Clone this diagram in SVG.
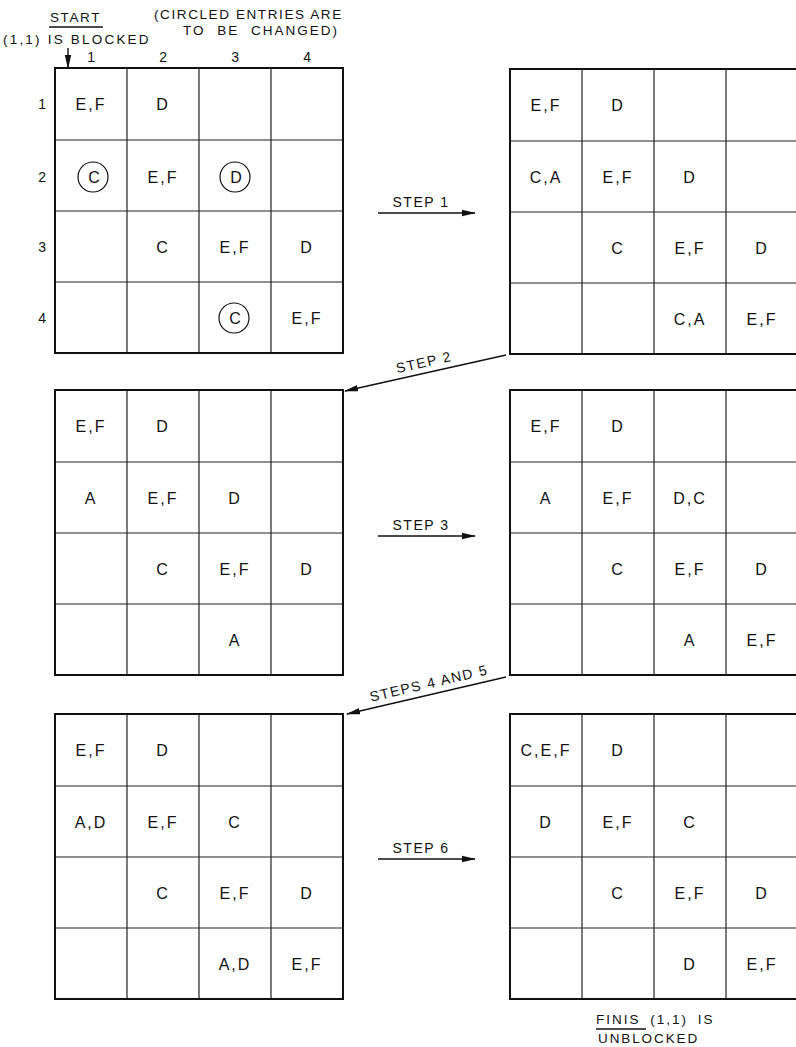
<svg xmlns="http://www.w3.org/2000/svg" width="796" height="1047" viewBox="0 0 796 1047">
<style>
text{font-family:"Liberation Sans",Arial,sans-serif;fill:#111;}
.c{font-size:16px;letter-spacing:2px;text-anchor:middle;}
.lbl{font-size:14px;letter-spacing:1.5px;text-anchor:middle;}
.hd{font-size:13.5px;letter-spacing:1.6px;}
.outer{fill:none;stroke:#111;stroke-width:2;}
.inner{stroke:#222;stroke-width:1.2;}
.ring{fill:none;stroke:#111;stroke-width:1.2;}
.arr{stroke:#111;stroke-width:1.4;fill:none;}
.ul{stroke:#111;stroke-width:1.3;}
</style>
<defs>
<marker id="ah" viewBox="0 0 14 8" refX="13" refY="4" markerWidth="14" markerHeight="8" markerUnits="userSpaceOnUse" orient="auto">
<path d="M0,0.8 L14,4 L0,7.2 Z" fill="#111"/>
</marker>
<g id="g4">
<line class="inner" x1="72" y1="0" x2="72" y2="285"/>
<line class="inner" x1="144" y1="0" x2="144" y2="285"/>
<line class="inner" x1="216" y1="0" x2="216" y2="285"/>
<line class="inner" x1="0" y1="72" x2="288" y2="72"/>
<line class="inner" x1="0" y1="143" x2="288" y2="143"/>
<line class="inner" x1="0" y1="214" x2="288" y2="214"/>
<rect class="outer" x="0" y="0" width="288" height="285"/>
</g>
</defs>

<g id="header">
<text class="hd" x="50" y="22">START</text>
<line class="ul" x1="49" y1="27" x2="103" y2="27"/>
<text class="hd" x="3" y="44" style="letter-spacing:2.2px">(1,1) IS BLOCKED</text>
<text class="hd" x="154" y="19">(CIRCLED ENTRIES ARE</text>
<text class="hd" x="183" y="35" style="word-spacing:6px;letter-spacing:2px">TO BE CHANGED)</text>
<text class="lbl" x="92" y="62">1</text>
<text class="lbl" x="164" y="62">2</text>
<text class="lbl" x="236" y="62">3</text>
<text class="lbl" x="308" y="62">4</text>
<text class="lbl" x="43" y="109">1</text>
<text class="lbl" x="43" y="182">2</text>
<text class="lbl" x="43" y="252">3</text>
<text class="lbl" x="43" y="323">4</text>
</g>

<g id="grid-start" transform="translate(55,68)">
<use href="#g4"/>
<text class="c" x="36" y="42">E,F</text>
<text class="c" x="108" y="42">D</text>
<circle class="ring" cx="38" cy="109" r="15"/>
<text class="c" x="39" y="115" style="letter-spacing:0">C</text>
<text class="c" x="108" y="115">E,F</text>
<circle class="ring" cx="180" cy="109" r="15"/>
<text class="c" x="181" y="115" style="letter-spacing:0">D</text>
<text class="c" x="108" y="185">C</text>
<text class="c" x="180" y="185">E,F</text>
<text class="c" x="252" y="185">D</text>
<circle class="ring" cx="179" cy="250" r="15"/>
<text class="c" x="180" y="256" style="letter-spacing:0">C</text>
<text class="c" x="252" y="256">E,F</text>
</g>

<g id="grid-step1" transform="translate(510,69)">
<use href="#g4"/>
<text class="c" x="36" y="42">E,F</text>
<text class="c" x="108" y="42">D</text>
<text class="c" x="36" y="114">C,A</text>
<text class="c" x="108" y="114">E,F</text>
<text class="c" x="180" y="114">D</text>
<text class="c" x="108" y="185">C</text>
<text class="c" x="180" y="185">E,F</text>
<text class="c" x="252" y="185">D</text>
<text class="c" x="180" y="256">C,A</text>
<text class="c" x="252" y="256">E,F</text>
</g>

<g id="grid-step2" transform="translate(55,390)">
<use href="#g4"/>
<text class="c" x="36" y="42">E,F</text>
<text class="c" x="108" y="42">D</text>
<text class="c" x="36" y="114">A</text>
<text class="c" x="108" y="114">E,F</text>
<text class="c" x="180" y="114">D</text>
<text class="c" x="108" y="185">C</text>
<text class="c" x="180" y="185">E,F</text>
<text class="c" x="252" y="185">D</text>
<text class="c" x="180" y="256">A</text>
</g>

<g id="grid-step3" transform="translate(510,390)">
<use href="#g4"/>
<text class="c" x="36" y="42">E,F</text>
<text class="c" x="108" y="42">D</text>
<text class="c" x="36" y="114">A</text>
<text class="c" x="108" y="114">E,F</text>
<text class="c" x="180" y="114">D,C</text>
<text class="c" x="108" y="185">C</text>
<text class="c" x="180" y="185">E,F</text>
<text class="c" x="252" y="185">D</text>
<text class="c" x="180" y="256">A</text>
<text class="c" x="252" y="256">E,F</text>
</g>

<g id="grid-step45" transform="translate(55,714)">
<use href="#g4"/>
<text class="c" x="36" y="42">E,F</text>
<text class="c" x="108" y="42">D</text>
<text class="c" x="36" y="114">A,D</text>
<text class="c" x="108" y="114">E,F</text>
<text class="c" x="180" y="114">C</text>
<text class="c" x="108" y="185">C</text>
<text class="c" x="180" y="185">E,F</text>
<text class="c" x="252" y="185">D</text>
<text class="c" x="180" y="256">A,D</text>
<text class="c" x="252" y="256">E,F</text>
</g>

<g id="grid-finis" transform="translate(510,714)">
<use href="#g4"/>
<text class="c" x="36" y="42">C,E,F</text>
<text class="c" x="108" y="42">D</text>
<text class="c" x="36" y="114">D</text>
<text class="c" x="108" y="114">E,F</text>
<text class="c" x="180" y="114">C</text>
<text class="c" x="108" y="185">C</text>
<text class="c" x="180" y="185">E,F</text>
<text class="c" x="252" y="185">D</text>
<text class="c" x="180" y="256">D</text>
<text class="c" x="252" y="256">E,F</text>
</g>

<g id="caption">
<text class="hd" x="596" y="1024" style="letter-spacing:2px;word-spacing:4px">FINIS (1,1) IS</text>
<line class="ul" x1="596" y1="1029" x2="646" y2="1029"/>
<text class="hd" x="598" y="1043" style="letter-spacing:1.9px">UNBLOCKED</text>
</g>

<g id="connectors">
<line class="arr" x1="68" y1="48" x2="68" y2="68" marker-end="url(#ah)"/>
<line class="arr" x1="378" y1="213" x2="475" y2="213" marker-end="url(#ah)"/>
<text class="lbl" x="421" y="207">STEP 1</text>
<line class="arr" x1="506" y1="355" x2="345" y2="391" marker-end="url(#ah)"/>
<text class="lbl" transform="translate(425,367) rotate(-12.7)">STEP 2</text>
<line class="arr" x1="378" y1="536" x2="475" y2="536" marker-end="url(#ah)"/>
<text class="lbl" x="421" y="530">STEP 3</text>
<line class="arr" x1="506" y1="677" x2="347" y2="714" marker-end="url(#ah)"/>
<text class="lbl" transform="translate(430,688) rotate(-13.2)">STEPS 4 AND 5</text>
<line class="arr" x1="378" y1="859" x2="475" y2="859" marker-end="url(#ah)"/>
<text class="lbl" x="421" y="853">STEP 6</text>
</g>
</svg>
